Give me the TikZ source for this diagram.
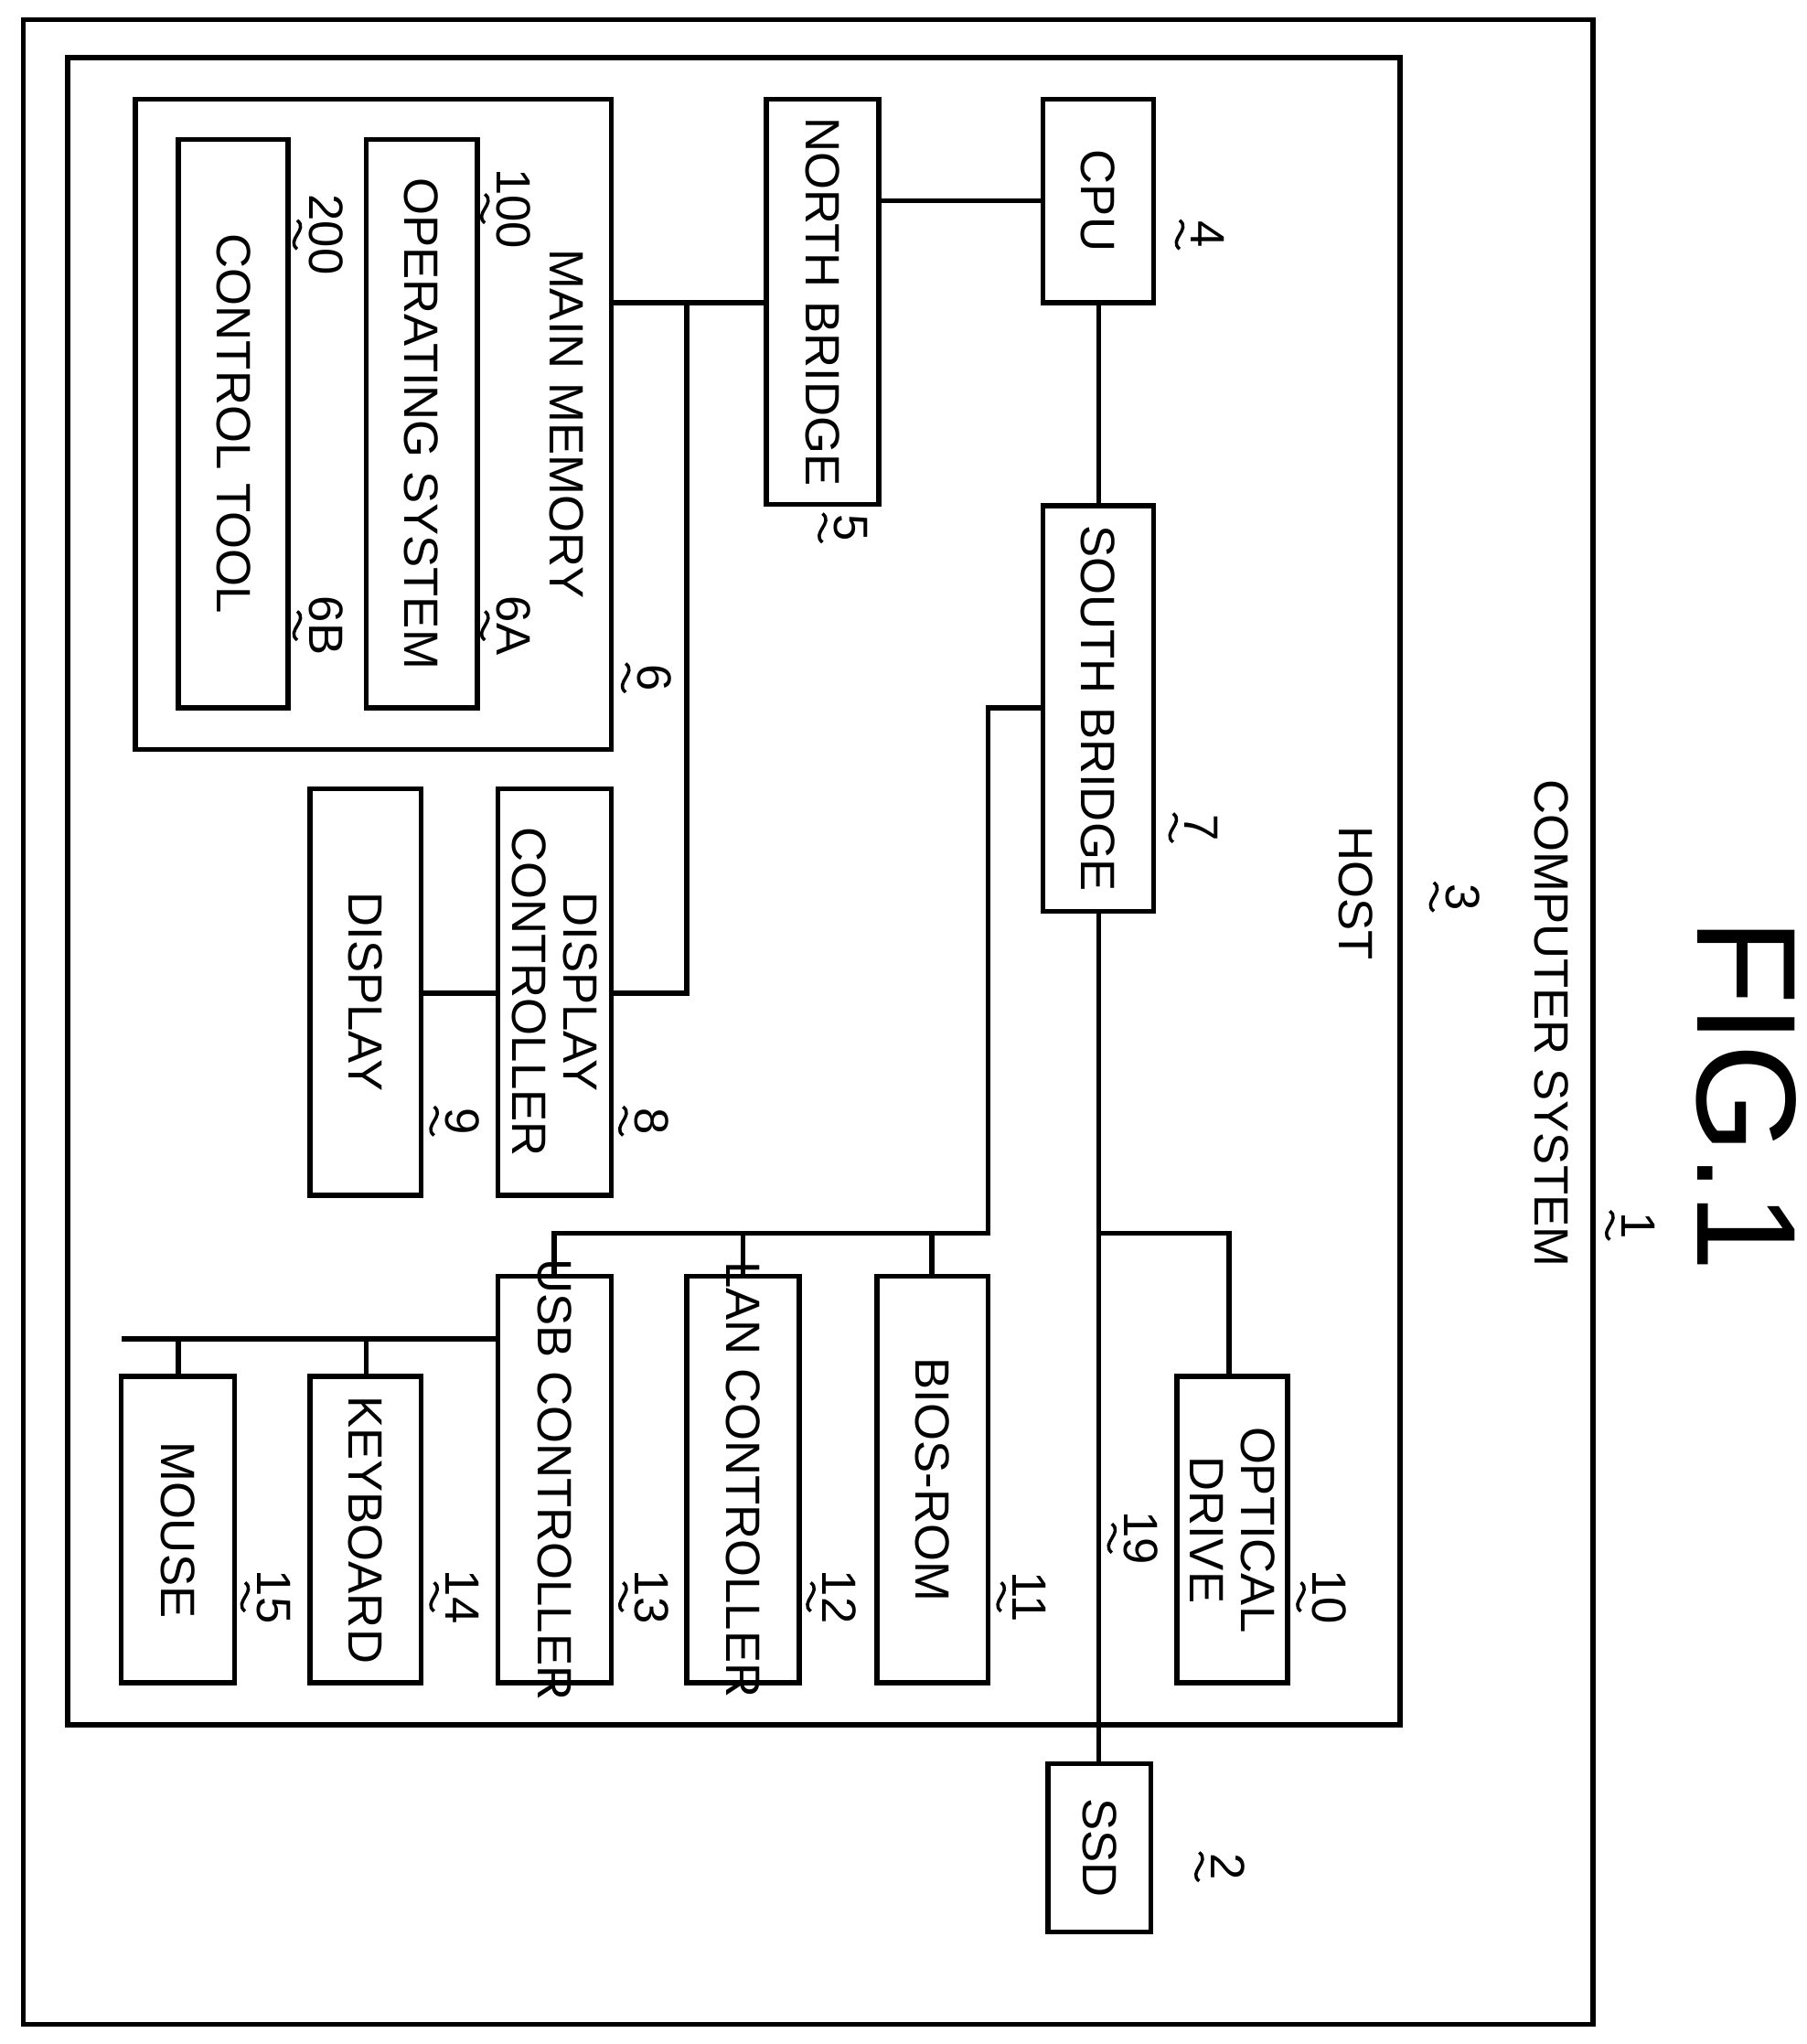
\documentclass[tikz,border=0pt]{standalone}
\usepackage{fontspec}
\setmainfont{Liberation Sans}
\usetikzlibrary{positioning}
\tikzset{
  blk/.style={draw, line width=1.6pt, font=\fontsize{15}{16}\selectfont, align=center, rotate=-90, inner sep=0pt},
  lbl/.style={font=\fontsize{15}{16}\selectfont, rotate=-90, inner sep=1pt},
  wire/.style={line width=1.6pt},
}
% box from two corners with label
\newcommand{\blkbox}[4]{%
  \draw[wire] #2 rectangle #3;
  \path #2 -- #3 node[midway, lbl, align=center] (#1) {#4};}
% reference mark: squiggle and number
\newcommand{\refmark}[3]{%
  \draw[line width=1pt] (#1,#2-11) .. controls (#1+9,#2-4) and (#1-9,#2+4) .. (#1,#2+11);
  \node[lbl, anchor=south] at (#1+6,#2) {#3};}
\begin{document}
\begin{tikzpicture}[x=0.01426cm, y=-0.01426cm]
  \useasboundingbox (0,0) rectangle (1386,1568);

  % Frames
  \draw[wire] (18,15) rectangle (1222,1553);
  \draw[wire] (52,44) rectangle (1074,1323);
  \node[lbl] (cs) at (1190,785) {COMPUTER SYSTEM};
  \node[lbl] (host) at (1040,685) {HOST};
  \node[rotate=-90, font=\fontsize{44}{46}\selectfont] (fig) at (1340,840) {FIG.1};

  % Main memory
  \draw[wire] (104,76) rectangle (469,575);
  \node[lbl] (mm) at (435,325) {MAIN MEMORY};
  \blkbox{tool}{(137,107)}{(221,543)}{CONTROL TOOL}
  \blkbox{os}{(281,107)}{(366,543)}{OPERATING SYSTEM}

  % Blocks
  \blkbox{nb}{(588,76)}{(674,387)}{NORTH BRIDGE}
  \blkbox{cpu}{(800,76)}{(885,232)}{CPU}
  \blkbox{sb}{(800,388)}{(885,699)}{SOUTH BRIDGE}
  \blkbox{dc}{(382,605)}{(469,917)}{DISPLAY\\CONTROLLER}
  \blkbox{disp}{(238,605)}{(323,917)}{DISPLAY}
  \blkbox{odd}{(903,1056)}{(988,1291)}{OPTICAL\\DRIVE}
  \blkbox{bios}{(673,979)}{(758,1291)}{BIOS-ROM}
  \blkbox{lan}{(527,979)}{(613,1291)}{LAN CONTROLLER}
  \blkbox{usb}{(382,979)}{(469,1291)}{USB CONTROLLER}
  \blkbox{kbd}{(238,1056)}{(323,1291)}{KEYBOARD}
  \blkbox{mouse}{(93,1056)}{(180,1291)}{MOUSE}
  \blkbox{ssd}{(804,1353)}{(883,1482)}{SSD}

  % Connections
  \draw[wire] (674,154) -- (800,154);
  \draw[wire] (843,232) -- (843,388);
  \draw[wire] (469,232) -- (588,232);
  \draw[wire] (527,232) -- (527,762) -- (469,762);
  \draw[wire] (323,762) -- (382,762);
  \draw[wire] (843,699) -- (843,1353);
  \draw[wire] (843,946) -- (943,946) -- (943,1056);
  \draw[wire] (800,543) -- (758,543) -- (758,946) -- (425,946) -- (425,979);
  \draw[wire] (715,946) -- (715,979);
  \draw[wire] (570,946) -- (570,979);
  \draw[wire] (382,1027) -- (93,1027);
  \draw[wire] (281,1027) -- (281,1056);
  \draw[wire] (137,1027) -- (137,1056);

  % Reference marks
  \refmark{1235}{940}{1}
  \refmark{1100}{688}{3}
  \refmark{920}{1432}{2}
  \refmark{631}{405}{5}
  \refmark{905}{180}{4}
  \refmark{480}{520}{6}
  \refmark{372}{480}{6A}
  \refmark{228}{480}{6B}
  \refmark{372}{160}{100}
  \refmark{228}{180}{200}
  \refmark{900}{635}{7}
  \refmark{478}{860}{8}
  \refmark{333}{860}{9}
  \refmark{998}{1225}{10}
  \refmark{768}{1225}{11}
  \refmark{622}{1225}{12}
  \refmark{478}{1225}{13}
  \refmark{333}{1225}{14}
  \refmark{188}{1225}{15}
  \refmark{853}{1180}{19}
\end{tikzpicture}
\end{document}
